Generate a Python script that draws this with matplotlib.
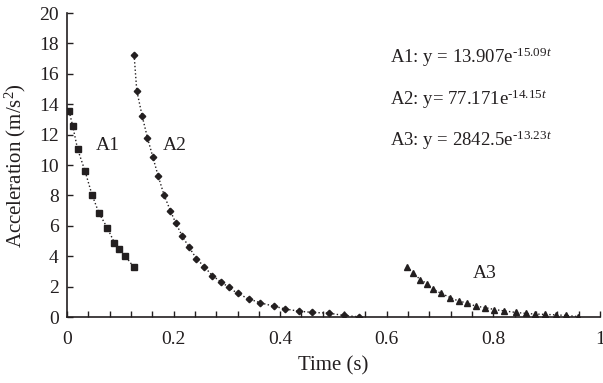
import matplotlib
matplotlib.use("Agg")
import matplotlib.pyplot as plt
from matplotlib.ticker import MultipleLocator

plt.rcParams['font.family'] = ['Liberation Serif', 'DejaVu Serif']
plt.rcParams['mathtext.fontset'] = 'custom'
plt.rcParams['mathtext.rm'] = 'Liberation Serif'
plt.rcParams['mathtext.it'] = 'Liberation Serif:italic'

# A1 series
a1_t = [0.004, 0.011, 0.020, 0.034, 0.047, 0.060, 0.076, 0.089, 0.098, 0.109, 0.125]
a1_y = [13.55, 12.55, 11.05, 9.6, 8.05, 6.85, 5.85, 4.9, 4.5, 4.05, 3.3]

# A2 series
a2_t = [0.126, 0.131, 0.141, 0.151, 0.161, 0.171, 0.182, 0.194, 0.204, 0.216,
        0.229, 0.243, 0.258, 0.273, 0.289, 0.304, 0.320, 0.341, 0.363, 0.388,
        0.410, 0.436, 0.460, 0.492, 0.519, 0.548]
a2_y = [17.25, 14.9, 13.25, 11.8, 10.55, 9.3, 8.05, 7.0, 6.2, 5.35,
        4.6, 3.85, 3.3, 2.72, 2.32, 1.95, 1.56, 1.2, 0.94, 0.72,
        0.53, 0.39, 0.31, 0.26, 0.11, 0.02]

# A3 series
a3_t = [0.638, 0.650, 0.663, 0.675, 0.687, 0.702, 0.719, 0.735, 0.750, 0.767,
        0.784, 0.802, 0.820, 0.842, 0.862, 0.879, 0.897, 0.917, 0.936, 0.958]
a3_y = [3.3, 2.87, 2.47, 2.21, 1.84, 1.56, 1.29, 1.05, 0.94, 0.72,
        0.63, 0.5, 0.41, 0.31, 0.24, 0.2, 0.18, 0.15, 0.11, 0.04]

series_labels = ["A1", "A2", "A3"]
equations = [("A1: y = 13.907", "15.09"),
             ("A2: y= 77.171", "14.15"),
             ("A3: y = 2842.5", "13.23")]

ink = '#231f20'

fig = plt.figure(figsize=(6.03, 3.83), dpi=100)
ax = fig.add_axes([0.111, 0.172, 0.884, 0.794])

ax.plot(a1_t, a1_y, linestyle=':', color=ink, lw=1.0, marker='s', ms=4.8,
        mfc=ink, mec=ink)
ax.plot(a2_t, a2_y, linestyle=':', color=ink, lw=1.0, marker='D', ms=3.3,
        mfc=ink, mec=ink)
ax.plot(a3_t, a3_y, linestyle=':', color=ink, lw=1.0, marker='^', ms=4.0,
        mfc=ink, mec=ink)

ax.set_xlim(0, 1)
ax.set_ylim(0, 20)
ax.xaxis.set_minor_locator(MultipleLocator(0.04))
ax.yaxis.set_major_locator(MultipleLocator(2))
ax.set_xticks([0, 0.2, 0.4, 0.6, 0.8, 1.0])
ax.set_xticklabels(['0', '0.2', '0.4', '0.6', '0.8', '1'])

for s in ['top', 'right']:
    ax.spines[s].set_visible(False)
for s in ['left', 'bottom']:
    ax.spines[s].set_linewidth(1.2)
    ax.spines[s].set_color(ink)

ax.tick_params(axis='both', which='major', direction='in', length=4,
               width=1.0, colors=ink, labelsize=14)
ax.tick_params(axis='x', which='major', pad=10)
ax.tick_params(axis='y', which='major', pad=6)
ax.tick_params(axis='x', which='minor', direction='in', length=4, width=1.0,
               colors=ink)

ax.set_xlabel('Time (s)', fontsize=15, color=ink, labelpad=6)
ax.set_ylabel('Acceleration (m/s$^{2}$)', fontsize=15, color=ink, labelpad=8)

ax.text(0.077, 11.3, series_labels[0], fontsize=14, color=ink, ha='center', va='center')
ax.text(0.203, 11.3, series_labels[1], fontsize=14, color=ink, ha='center', va='center')
ax.text(0.784, 2.9, series_labels[2], fontsize=14, color=ink, ha='center', va='center')

ys = [17.1, 14.3, 11.6]
for (base, expo), yy in zip(equations, ys):
    ax.text(0.606, yy, base + r'$\mathregular{e^{' + '\u2010' + expo + r'\mathit{t}}}$',
            fontsize=13.5, color=ink, ha='left', va='center')

fig.savefig('out.png', dpi=100)
